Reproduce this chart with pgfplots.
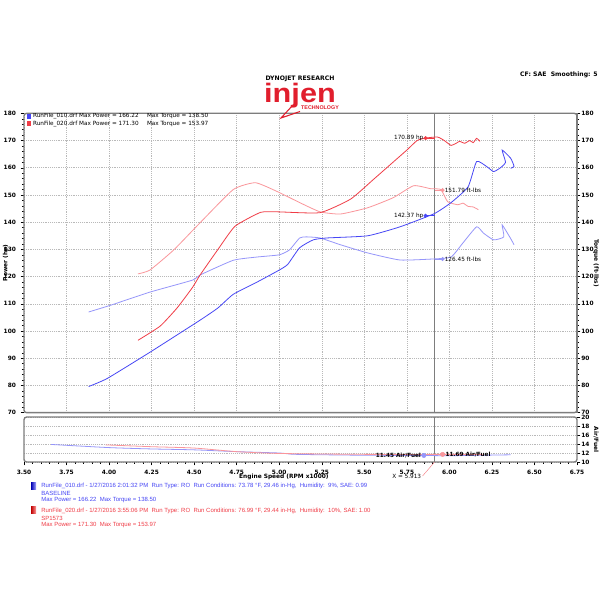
\documentclass[border=0pt]{standalone}
\usepackage{pgfplots}
\pgfplotsset{compat=1.18}
\usepackage{fontspec}
\setmainfont{DejaVu Sans}
\newfontfamily\arialf{Liberation Sans}
\definecolor{pwrblue}{RGB}{70,70,245}
\definecolor{trqblue}{RGB}{150,150,250}
\definecolor{pwrred}{RGB}{240,60,70}
\definecolor{trqred}{RGB}{250,150,155}
\definecolor{framegray}{RGB}{125,125,125}
\definecolor{injenred}{RGB}{225,30,45}

\pgfplotsset{
  dyno/.style={
    scale only axis, width=414.75pt,
    xmin=3.5, xmax=6.75,
    font=\fontsize{4.4}{5}\selectfont\bfseries,
    /pgf/number format/assume math mode=true,
    tick align=outside,
    axis line style={framegray, line width=1pt},
    tick style={black, line width=0.3pt},
    major tick length=2.5pt, minor tick length=1.5pt,
    major grid style={densely dotted, gray!55, line width=0.4pt},
  },
  mk/.style={only marks, mark=*, mark size=1.3pt},
}
\newcommand{\lbl}{\fontsize{4.3}{5}\selectfont\mdseries}

\begin{document}
\begin{tikzpicture}
\useasboundingbox (0,0) rectangle (450pt,450pt);
\path[fill=white] (0,0) rectangle (450pt,450pt);

% ---------- main panel: power / torque
\begin{axis}[dyno, at={(18pt,140.5pt)}, anchor=south west, height=224.5pt,
  ymin=70, ymax=180,
  xtick={3.5,3.75,...,6.75}, xticklabels={}, xtick style={draw=none},
  ytick={70,80,...,180}, minor y tick num=4, ytick pos=left,
  grid=major,
  ylabel={Power (hp)},
  every axis y label/.style={at={(axis description cs:-0.033,0.5)}, rotate=90, anchor=center},
  axis line style={rounded corners=2pt},
]
\addplot[framegray, line width=0.9pt] coordinates {(5.913,70) (5.913,180)};

% blue torque
\addplot[trqblue, line width=0.6pt, smooth, tension=0.3] coordinates {
 (3.88,107) (4.01,109.5) (4.24,114.3) (4.49,118.7) (4.535,120.6) (4.73,126)
 (4.87,127.2) (5.0,128) (5.06,129.8) (5.12,134.2) (5.16,134.6) (5.24,134.2)
 (5.36,131.7) (5.52,128.7) (5.71,126.1) (5.91,126.5) (6.01,127.2) (6.08,132.4)
 (6.16,138.3) (6.2,136) (6.26,133.5) (6.32,134.6) (6.31,139) (6.36,134) (6.38,131.7)};
% red torque
\addplot[trqred, line width=0.6pt, smooth, tension=0.3] coordinates {
 (4.17,121) (4.24,122.4) (4.38,129.8) (4.535,139.8) (4.73,152) (4.86,154.5)
 (4.99,151.2) (5.12,147.2) (5.24,143.8) (5.36,143) (5.52,145.3) (5.67,149)
 (5.79,153.4) (5.89,152.3) (5.95,152) (5.99,147.5) (6.05,146.4) (6.08,147)
 (6.11,145.8) (6.14,145.6) (6.17,144.6)};
% blue power
\addplot[pwrblue, line width=0.6pt, smooth, tension=0.3] coordinates {
 (3.88,79.6) (3.99,82.6) (4.24,92.2) (4.535,104) (4.64,108.5) (4.73,113.5)
 (4.87,118) (5.0,122.4) (5.05,124.5) (5.12,130.6) (5.2,133.5) (5.28,134.2)
 (5.52,135) (5.71,138.3) (5.91,143.1) (6.01,147.2) (6.11,153) (6.16,162.3)
 (6.22,160.4) (6.26,158.6) (6.30,160) (6.33,162) (6.31,166.5) (6.36,163.5)
 (6.38,160.5) (6.36,159.8)};
% red power
\addplot[pwrred, line width=0.6pt, smooth, tension=0.3] coordinates {
 (4.17,96.6) (4.3,101.8) (4.4,108.5) (4.49,116) (4.535,120.6) (4.64,130)
 (4.74,138.5) (4.89,143.6) (4.99,143.8) (5.24,143.5) (5.42,148.5) (5.55,155.5)
 (5.65,161) (5.75,166.5) (5.81,170) (5.86,170.9) (5.93,171.3) (5.97,170)
 (6.01,168.2) (6.04,169) (6.06,169.7) (6.09,169) (6.12,170) (6.14,169.2)
 (6.16,170.8) (6.18,169.7)};

% cursor markers
\addplot[pwrred, line width=0.4pt] coordinates {(5.86,170.89) (5.913,170.89)};
\addplot[pwrblue, line width=0.4pt] coordinates {(5.86,142.37) (5.913,142.37)};
\addplot[trqred, line width=0.4pt] coordinates {(5.913,151.79) (5.96,151.79)};
\addplot[trqblue, line width=0.4pt] coordinates {(5.913,126.45) (5.96,126.45)};
\addplot[mk, pwrred] coordinates {(5.86,170.89)} node[left, black, font=\lbl, inner sep=1.5pt] {170.89 hp};
\addplot[mk, pwrblue] coordinates {(5.86,142.37)} node[left, black, font=\lbl, inner sep=1.5pt] {142.37 hp};
\addplot[mk, trqred] coordinates {(5.96,151.79)} node[right, black, font=\lbl, inner sep=1.5pt] {151.79 ft-lbs};
\addplot[mk, trqblue] coordinates {(5.96,126.45)} node[right, black, font=\lbl, inner sep=1.5pt] {126.45 ft-lbs};

% legend
\fill[pwrblue] (axis description cs:0.006,0.982) rectangle (axis description cs:0.012,0.997);
\fill[pwrred] (axis description cs:0.006,0.958) rectangle (axis description cs:0.012,0.973);
\node[anchor=west, font=\lbl, inner sep=0pt] at (axis description cs:0.016,0.99) {RunFile\_010.drf Max Power = 166.22};
\node[anchor=west, font=\lbl, inner sep=0pt] at (axis description cs:0.016,0.966) {RunFile\_020.drf Max Power = 171.30};
\node[anchor=west, font=\lbl, inner sep=0pt] at (axis description cs:0.222,0.99) {Max Torque = 138.50};
\node[anchor=west, font=\lbl, inner sep=0pt] at (axis description cs:0.222,0.966) {Max Torque = 153.97};
\end{axis}

% ---------- right torque scale
\begin{axis}[dyno, at={(18pt,140.5pt)}, anchor=south west, height=224.5pt,
  ymin=70, ymax=180, axis x line=none, axis y line*=right,
  ytick={70,80,...,180}, minor y tick num=4,
  yticklabel style={inner sep=0.6pt},
  ylabel={Torque (ft-lbs)},
  every axis y label/.style={at={(axis description cs:1.0345,0.5)}, rotate=-90, anchor=center},
]
\end{axis}

% ---------- air/fuel panel
\begin{axis}[dyno, at={(18pt,103.5pt)}, anchor=south west, height=33.75pt,
  ymin=10, ymax=20,
  ytick={10,12,...,20}, ytick pos=right, yticklabel pos=right,
  yticklabel style={inner sep=0.6pt},
  ymajorgrids, minor y tick num=0,
  xtick={3.5,3.75,...,6.75}, xtick pos=bottom, minor x tick num=4,
  xticklabel style={/pgf/number format/.cd, fixed, fixed zerofill, precision=2},
  xlabel={Engine Speed (RPM x1000)},
  every axis x label/.style={at={(axis description cs:0.47,-0.34)}, anchor=center},
  ylabel={Air/Fuel},
  every axis y label/.style={at={(axis description cs:1.0345,0.5)}, rotate=-90, anchor=center},
  axis line style={rounded corners=2pt},
  clip=false,
]
\addplot[framegray, line width=0.9pt] coordinates {(5.913,10) (5.913,20)};
\addplot[trqblue, line width=0.6pt, smooth, tension=0.4] coordinates {
 (3.66,13.9) (4.0,13.2) (4.25,12.9) (4.5,12.7) (4.75,12.3) (5.0,12.0) (5.1,11.7)
 (5.5,11.5) (5.85,11.45) (6.0,11.4) (6.36,11.6)};
\addplot[trqred, line width=0.6pt, smooth, tension=0.4] coordinates {
 (3.98,13.8) (4.25,13.4) (4.5,13.1) (4.75,12.3) (5.0,11.9) (5.5,11.7) (5.95,11.69) (6.2,11.7)};
\addplot[mk, trqblue, mark size=1.6pt] coordinates {(5.85,11.45)} node[left, black, font=\lbl\bfseries, inner sep=2pt] {11.45 Air/Fuel};
\addplot[mk, trqred, mark size=1.6pt] coordinates {(5.96,11.69)} node[right, black, font=\lbl\bfseries, inner sep=2pt] {11.69 Air/Fuel};
\draw[pwrred!70, line width=0.3pt] (axis cs:5.913,10) -- ++(-9pt,-10.5pt)
  node[anchor=east, black, font=\lbl, inner sep=1pt] {X = 5.913};
\end{axis}

% ---------- header and run notes (pixel grid)
\begin{scope}[x=0.75pt, y=-0.75pt, shift={(0,450pt)}]
\node[font=\fontsize{4.6}{5}\selectfont\bfseries] at (300,78.5) {DYNOJET RESEARCH};
\node[font=\arialf\fontsize{20}{20}\selectfont\bfseries, text=injenred, xscale=1.15, anchor=base, inner sep=0pt] at (300,103) {injen};
\node[font=\arialf\fontsize{4}{5}\selectfont\bfseries, text=injenred, inner sep=0pt] at (320,108) {TECHNOLOGY};
\draw[injenred, line width=0.8pt] (293,105) -- (281,118) -- (300,111.5);
\node[font=\fontsize{4.6}{5}\selectfont\bfseries, anchor=east, inner sep=0pt] at (598,75) {CF: SAE\ \ Smoothing: 5};

\shade[left color=blue!70!black, right color=blue!35] (31,483) rectangle (36,490);
\shade[left color=red!75!black, right color=red!40] (31,507) rectangle (36,514);
\begin{scope}[every node/.style={anchor=west, inner sep=0pt, font=\arialf\fontsize{4.5}{5}\selectfont}]
\node[text=pwrblue] at (41,486) {RunFile\_010.drf - 1/27/2016 2:01:32 PM\ \ Run Type: RO\ \ Run Conditions: 73.78 °F, 29.46 in-Hg,\ \ Humidity:\ \ 9\%, SAE: 0.99};
\node[text=pwrblue] at (41,493) {BASELINE};
\node[text=pwrblue] at (41,500) {Max Power = 166.22\ \ Max Torque = 138.50};
\node[text=pwrred] at (41,511) {RunFile\_020.drf - 1/27/2016 3:55:06 PM\ \ Run Type: RO\ \ Run Conditions: 76.99 °F, 29.44 in-Hg,\ \ Humidity:\ \ 10\%, SAE: 1.00};
\node[text=pwrred] at (41,518) {SP1573};
\node[text=pwrred] at (41,525) {Max Power = 171.30\ \ Max Torque = 153.97};
\end{scope}
\end{scope}
\end{tikzpicture}
\end{document}
